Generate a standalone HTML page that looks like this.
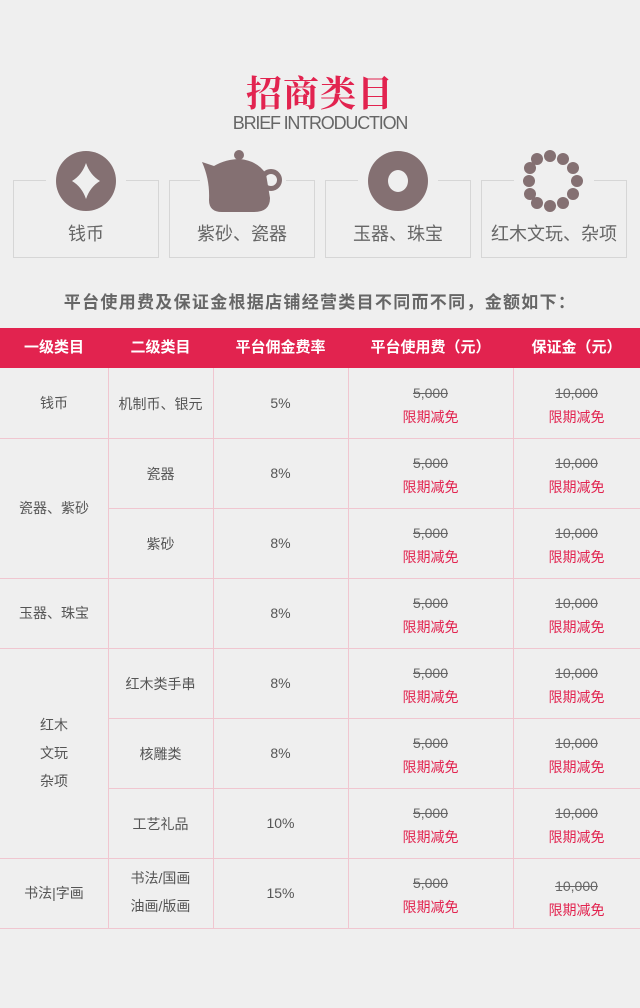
<!DOCTYPE html>
<html><head><meta charset="utf-8">
<style>
*{margin:0;padding:0;box-sizing:border-box}
body{width:640px;height:1008px;background:#efefef;font-family:"Liberation Sans","Noto Sans CJK SC",sans-serif;position:relative;overflow:hidden;color:#555}
.a{position:absolute}
.title{left:0;width:640px;top:66px;text-align:center;font-family:"Liberation Serif","Noto Serif CJK SC",serif;font-weight:bold;font-size:36px;color:#e2234f;letter-spacing:1px}
.sub{left:0;width:640px;top:113px;text-align:center;font-size:18px;color:#666;letter-spacing:-1.2px}
.box{border:1px solid #d6d6d6;width:146px;height:78px;top:180px}
.gap{background:#efefef;height:3px;top:178px}
.lbl{top:220px;width:146px;text-align:center;font-size:18px;color:#666}
.note{left:0;width:640px;top:288px;text-align:center;font-size:17px;font-weight:bold;color:#666;letter-spacing:1.3px}
.hdr{left:0;top:328px;width:640px;height:40px;background:#e2234f}
.hc{top:328px;height:40px;line-height:40px;text-align:center;color:#fff;font-weight:bold;font-size:15px}
.hl{height:1px;background:#f0c6d0;left:0;width:640px}
.vl{width:1px;background:#f0c6d0}
.c{text-align:center;font-size:14px;color:#555}
.s{text-decoration:line-through;color:#666}
.r{color:#e2234f}
</style></head><body>
<div class="a title">招商类目</div>
<div class="a sub">BRIEF INTRODUCTION</div>

<div class="a box" style="left:13px"></div>
<div class="a box" style="left:169px"></div>
<div class="a box" style="left:325px"></div>
<div class="a box" style="left:481px"></div>
<div class="a gap" style="left:46px;width:80px"></div>
<div class="a gap" style="left:200px;width:86px"></div>
<div class="a gap" style="left:358px;width:80px"></div>
<div class="a gap" style="left:514px;width:80px"></div>

<svg class="a" style="left:0;top:140px" width="640" height="80">
 <g fill="#847072">
  <ellipse cx="86" cy="41" rx="30" ry="30"/>
  <path d="M86 23 Q90 35 100 41 Q90 47 86 59 Q82 47 72 41 Q82 35 86 23Z" fill="#efefef"/>
  <g>
   <circle cx="239" cy="15" r="5"/>
   <path d="M202 22 L214 26 Q226 19 240 19 Q258 21 266 34 L270 58 Q270 72 254 72 L222 72 Q209 72 209 60 Q210 40 202 22Z"/>
   <circle cx="271" cy="40" r="8.5" fill="none" stroke="#847072" stroke-width="5"/>
  </g>
  <circle cx="398" cy="41" r="30"/>
  <ellipse cx="398" cy="41" rx="10" ry="11" fill="#efefef"/>
  <g>
   <circle cx="550" cy="16" r="6"/><circle cx="563" cy="19" r="6"/><circle cx="573" cy="28" r="6"/><circle cx="577" cy="41" r="6"/><circle cx="573" cy="54" r="6"/><circle cx="563" cy="63" r="6"/><circle cx="550" cy="66" r="6"/><circle cx="537" cy="63" r="6"/><circle cx="530" cy="54" r="6"/><circle cx="529" cy="41" r="6"/><circle cx="530" cy="28" r="6"/><circle cx="537" cy="19" r="6"/>
  </g>
 </g>
</svg>
<div class="a lbl" style="left:13px">钱币</div>
<div class="a lbl" style="left:169px">紫砂、瓷器</div>
<div class="a lbl" style="left:325px">玉器、珠宝</div>
<div class="a lbl" style="left:481px">红木文玩、杂项</div>

<div class="a note">平台使用费及保证金根据店铺经营类目不同而不同，金额如下：</div>

<div class="a hdr"></div>
<div class="a hc" style="left:0;width:108px">一级类目</div>
<div class="a hc" style="left:108px;width:105px">二级类目</div>
<div class="a hc" style="left:213px;width:135px">平台佣金费率</div>
<div class="a hc" style="left:348px;width:165px">平台使用费（元）</div>
<div class="a hc" style="left:513px;width:127px">保证金（元）</div>

<div id="tbl"></div>
<script>
const rowLines=[438,578,648,858,928];
const subLines=[[508,108],[718,108],[788,108]];
const cols=[108,213,348,513];
const level1=[["钱币",368,438],["瓷器、紫砂",438,578],["玉器、珠宝",578,648],["红木<br>文玩<br>杂项",648,858],["书法|字画",858,928]];
const level2=["机制币、银元","瓷器","紫砂","","红木类手串","核雕类","工艺礼品","书法/国画<br>油画/版画"];
const rates=["5%","8%","8%","8%","8%","8%","10%","15%"];
const fee="5,000", dep="10,000", promo="限期减免";
const t=document.getElementById('tbl');
function add(html,style,name){const d=document.createElement('div');d.className='a c';d.innerHTML=html;d.style.cssText=style;


t.appendChild(d);}
rowLines.forEach(y=>{const d=document.createElement('div');d.className='a hl';d.style.top=y+'px';


t.appendChild(d);});
subLines.forEach(([y,x])=>{const d=document.createElement('div');d.className='a hl';d.style.cssText='top:'+y+'px;left:'+x+'px;width:'+(640-x)+'px';


t.appendChild(d);});
cols.forEach(x=>{const d=document.createElement('div');d.className='a vl';d.style.cssText='left:'+x+'px;top:368px;height:560px';


t.appendChild(d);});
level1.forEach(([txt,y0,y1])=>{const n=txt.split('<br>').length;const lh=n>1?28:20;
add(txt,'left:0;width:108px;line-height:'+lh+'px;top:'+((y0+y1)/2-n*lh/2)+'px','level1-cell');});
level2.forEach((txt,i)=>{const y=368+i*70;const n=txt?txt.split('<br>').length:1;const lh=n>1?28:20;
add(txt,'left:108px;width:105px;line-height:'+lh+'px;top:'+(y+35-n*lh/2+(n>1?-1:1))+'px','level2-cell');
add(rates[i],'left:213px;width:135px;line-height:20px;top:'+(y+25)+'px','rate-cell');
add('<span class="s">'+fee+'</span><br><span class="r">'+promo+'</span>','left:348px;width:165px;line-height:24px;top:'+(y+13)+'px','fee-cell');
add('<span class="s">'+dep+'</span><br><span class="r">'+promo+'</span>','left:513px;width:127px;line-height:24px;top:'+(y+(i==7?16:13))+'px','deposit-cell');
});
</script>
</body></html>
